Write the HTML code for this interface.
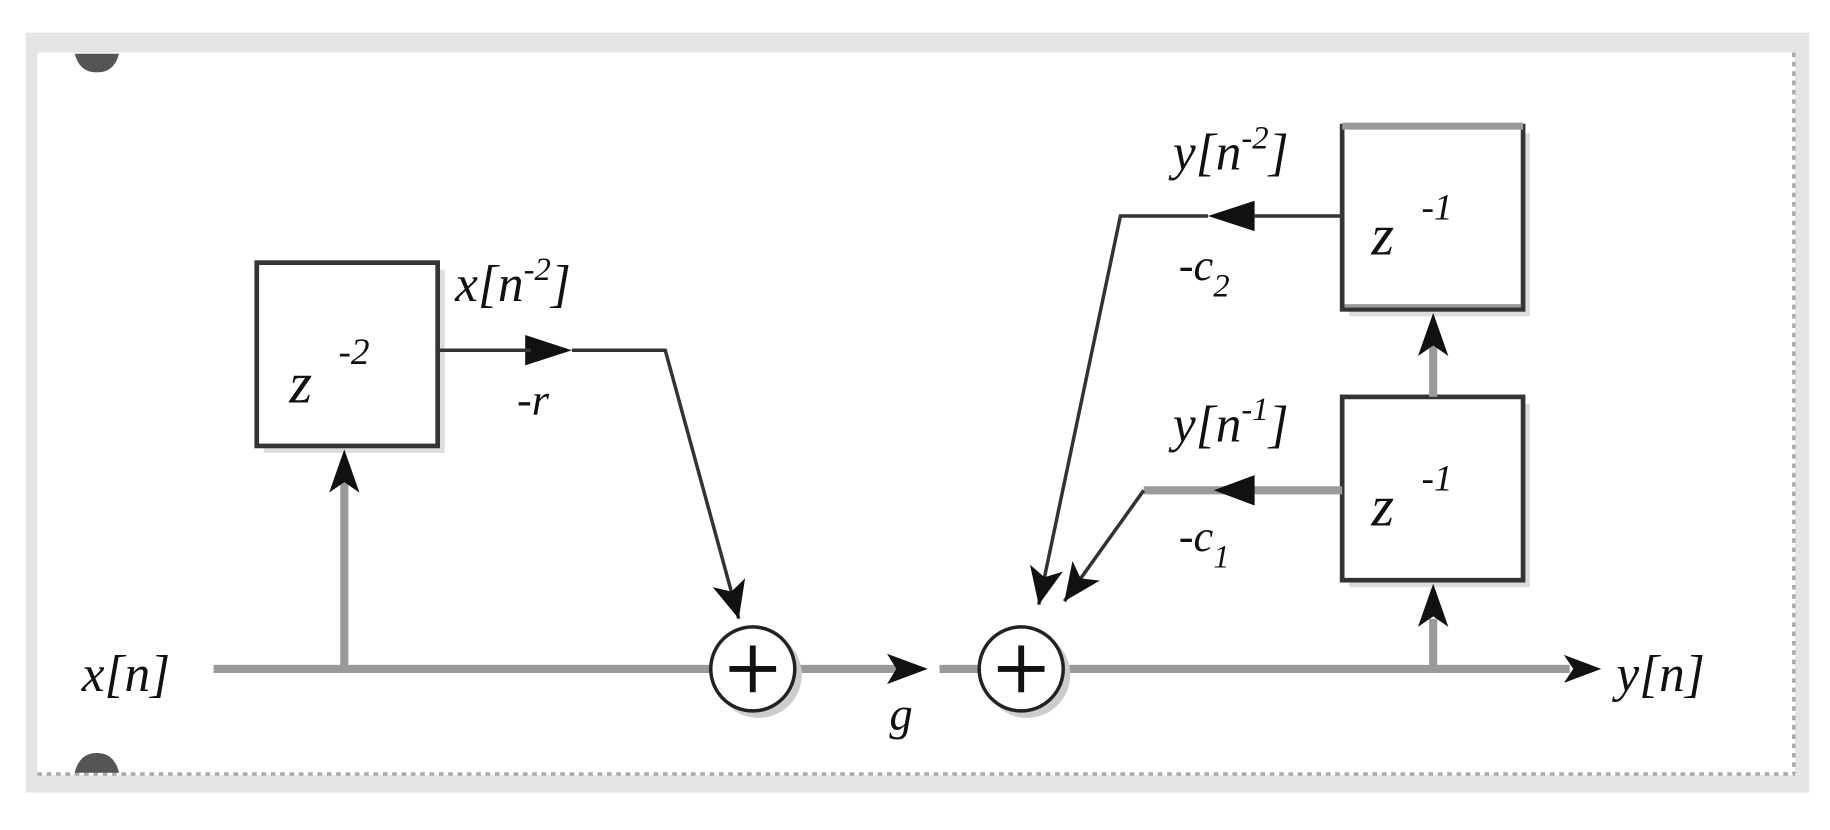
<!DOCTYPE html>
<html><head><meta charset="utf-8"><style>
html,body{margin:0;padding:0;background:#fff;}
svg{display:block}
text{font-family:"Liberation Serif",serif;font-style:italic;fill:#111}
</style></head><body>
<svg width="1830" height="830" viewBox="0 0 1568 711" preserveAspectRatio="none" xmlns="http://www.w3.org/2000/svg">
<defs>
<marker id="ah2" viewBox="0 0 10 10" refX="10" refY="5" markerWidth="32" markerHeight="32" markerUnits="userSpaceOnUse" orient="auto"><path d="M0,0.5 L10,5 L0,9.5 L2.5,5 Z" fill="#111"/></marker>
</defs>
<rect x="0" y="0" width="1568" height="711" fill="#fff"/>
<rect x="22" y="28" width="1528" height="651" fill="#e4e4e4"/>
<rect x="32" y="45" width="1506" height="619" fill="#fff"/>
<line x1="32" y1="663" x2="1538" y2="663" stroke="#aaa" stroke-width="3" stroke-dasharray="4,4"/>
<line x1="1537" y1="45" x2="1537" y2="663" stroke="#aaa" stroke-width="3" stroke-dasharray="4,4"/>
<path d="M64,46 L102,46 Q98,62 83,62 Q68,62 64,46 Z" fill="#555"/>
<path d="M64,662 L102,662 Q98,645 83,645 Q68,645 64,662 Z" fill="#555"/>

<g>
<rect x="226" y="231" width="155" height="157" fill="#ddd"/>
<rect x="220" y="225" width="155" height="157" fill="#fff" stroke="#333" stroke-width="4"/>
<rect x="1156" y="114" width="155" height="157" fill="#ddd"/>
<rect x="1150" y="108" width="155" height="157" fill="#fff" stroke="#333" stroke-width="4"/>
<line x1="1150" y1="108" x2="1305" y2="108" stroke="#999" stroke-width="6"/>
<line x1="1152" y1="262" x2="1303" y2="262" stroke="#999" stroke-width="3"/>
<rect x="1156" y="346" width="155" height="157" fill="#ddd"/>
<rect x="1150" y="340" width="155" height="157" fill="#fff" stroke="#333" stroke-width="4"/>
</g>

<g stroke="#9a9a9a" stroke-width="7" fill="none">
<line x1="183" y1="573" x2="608" y2="573"/>
<line x1="683" y1="573" x2="770" y2="573"/>
<line x1="805" y1="573" x2="838" y2="573"/>
<line x1="913" y1="573" x2="1345" y2="573"/>
<line x1="295" y1="573" x2="295" y2="410"/>
<line x1="1228" y1="573" x2="1228" y2="530"/>
<line x1="1228" y1="340" x2="1228" y2="290"/>
<line x1="1150" y1="420" x2="980" y2="420"/>
</g>
<g fill="#111">
<path d="M295,385 L282,422 L295,413 L308,422 Z"/>
<path d="M1228,500 L1215,537 L1228,528 L1241,537 Z"/>
<path d="M1228,268 L1215,305 L1228,296 L1241,305 Z"/>
<path d="M795,573 L760,560 L768,573 L760,586 Z"/>
<path d="M1372,573 L1340,561 L1348,573 L1340,585 Z"/>
<path d="M1040,420 L1075,407 L1075,433 Z"/>
<path d="M1035,185 L1075,172 L1075,198 Z"/>
<path d="M490,300 L450,287 L450,313 Z"/>
</g>
<g stroke="#333" stroke-width="3" fill="none">
<line x1="375" y1="300" x2="455" y2="300"/>
<polyline points="490,300 570,300 633,530" marker-end="url(#ah2)"/>
<line x1="1150" y1="185" x2="1075" y2="185"/>
<polyline points="1035,185 960,185 890,518" marker-end="url(#ah2)"/>
<polyline points="980,420 912,515" marker-end="url(#ah2)"/>
</g>
<g>
<circle cx="650" cy="578" r="37" fill="#ccc"/>
<circle cx="645" cy="573" r="36" fill="#fff" stroke="#222" stroke-width="3"/>
<path d="M645,553 V593 M625,573 H665" stroke="#111" stroke-width="5"/>
<circle cx="880" cy="578" r="37" fill="#ccc"/>
<circle cx="875" cy="573" r="36" fill="#fff" stroke="#222" stroke-width="3"/>
<path d="M875,553 V593 M855,573 H895" stroke="#111" stroke-width="5"/>
</g>
<g font-size="44">
<text x="248" y="345" font-size="50">z</text><text x="290" y="312" font-size="32" font-style="normal">-2</text>
<text x="1175" y="218" font-size="50">z</text><text x="1218" y="188" font-size="32" font-style="normal">-1</text>
<text x="1175" y="450" font-size="50">z</text><text x="1218" y="420" font-size="32" font-style="normal">-1</text>
<text x="70" y="592">x[n]</text>
<text x="1385" y="592">y[n]</text>
<text x="390" y="258">x[n<tspan font-size="28" dy="-18">-2</tspan><tspan dy="18">]</tspan></text>
<text x="1005" y="145">y[n<tspan font-size="28" dy="-18">-2</tspan><tspan dy="18">]</tspan></text>
<text x="1005" y="378">y[n<tspan font-size="28" dy="-18">-1</tspan><tspan dy="18">]</tspan></text>
<text x="443" y="355" font-size="38">-r</text>
<text x="1010" y="240" font-size="38">-c<tspan font-size="28" dy="14">2</tspan></text>
<text x="1010" y="472" font-size="38">-c<tspan font-size="28" dy="14">1</tspan></text>
<text x="762" y="625" font-size="40">g</text>
</g>
</svg>
</body></html>
